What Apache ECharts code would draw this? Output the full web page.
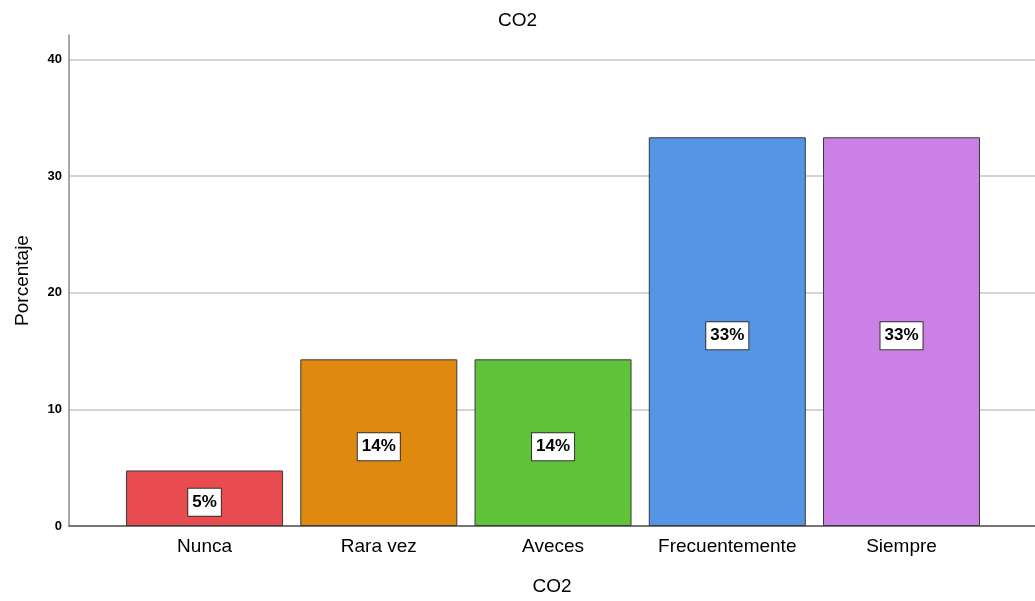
<!DOCTYPE html>
<html>
<head>
<meta charset="utf-8">
<title>CO2</title>
<script src="https://cdn.jsdelivr.net/npm/echarts@6/dist/echarts.min.js"></script>
<style>
  html, body { margin: 0; padding: 0; background: #fff; }
  #chart { width: 1035px; height: 601px; }
</style>
</head>
<body>
<div id="chart"></div>
<script>
// Response categories and their share of answers (percent)
const categories = ['Nunca', 'Rara vez', 'Aveces', 'Frecuentemente', 'Siempre'];
const percentages = [4.76, 14.29, 14.29, 33.33, 33.33];
const yTicks = [0, 10, 20, 30, 40];

// One fill per category
const barColors = ['#e84b50', '#e0890f', '#5fc339', '#5595e5', '#cb80e5'];

const FONT = '"Liberation Sans", Arial, sans-serif';
const positions = categories.map((_, i) => i);

const chart = echarts.init(document.getElementById('chart'), null, { renderer: 'canvas' });

chart.setOption({
  backgroundColor: '#ffffff',
  animation: false,
  title: {
    text: 'CO2',
    left: 'center',
    top: 6,
    textStyle: { fontFamily: FONT, fontSize: 19, fontWeight: 'normal', color: '#000000' }
  },
  grid: { left: 69, right: 0, top: 35, bottom: 73, containLabel: false },
  xAxis: {
    type: 'value',
    min: -0.778,
    max: 4.766,
    name: 'CO2',
    nameLocation: 'middle',
    nameGap: 51,
    nameTextStyle: { fontFamily: FONT, fontSize: 19, color: '#000000' },
    axisLine: { show: true, onZero: false, lineStyle: { color: '#555555', width: 1.5 } },
    axisTick: { show: false },
    splitLine: { show: false },
    axisLabel: {
      customValues: positions,
      formatter: v => categories[Math.round(v)] ?? '',
      margin: 11,
      fontFamily: FONT,
      fontSize: 19,
      color: '#000000'
    }
  },
  yAxis: {
    type: 'value',
    min: 0,
    max: 42.1,
    name: 'Porcentaje',
    nameLocation: 'middle',
    nameGap: 37,
    nameTextStyle: { fontFamily: FONT, fontSize: 19, color: '#000000' },
    axisLine: { show: true, onZero: false, lineStyle: { color: '#8a8a8a', width: 1.5 } },
    axisTick: { show: false, customValues: yTicks },
    axisLabel: {
      customValues: yTicks,
      margin: 7,
      fontFamily: FONT,
      fontSize: 13,
      fontWeight: 'bold',
      color: '#000000'
    },
    splitLine: { show: true, lineStyle: { color: '#d4d4d4', width: 2 } }
  },
  series: [{
    type: 'bar',
    barWidth: 157,
    data: percentages.map((v, i) => ({
      value: [positions[i], v],
      itemStyle: { color: barColors[i], borderColor: '#3a3a3a', borderWidth: 1 }
    })),
    label: {
      show: true,
      position: 'inside',
      offset: [0, 4],
      formatter: p => Math.round(p.value[1]) + '%',
      fontFamily: FONT,
      fontSize: 17,
      fontWeight: 'bold',
      color: '#000000',
      backgroundColor: '#ffffff',
      borderColor: '#333333',
      borderWidth: 1,
      padding: [4, 4, 3, 4],
      lineHeight: 20
    }
  }]
});
</script>
</body>
</html>
